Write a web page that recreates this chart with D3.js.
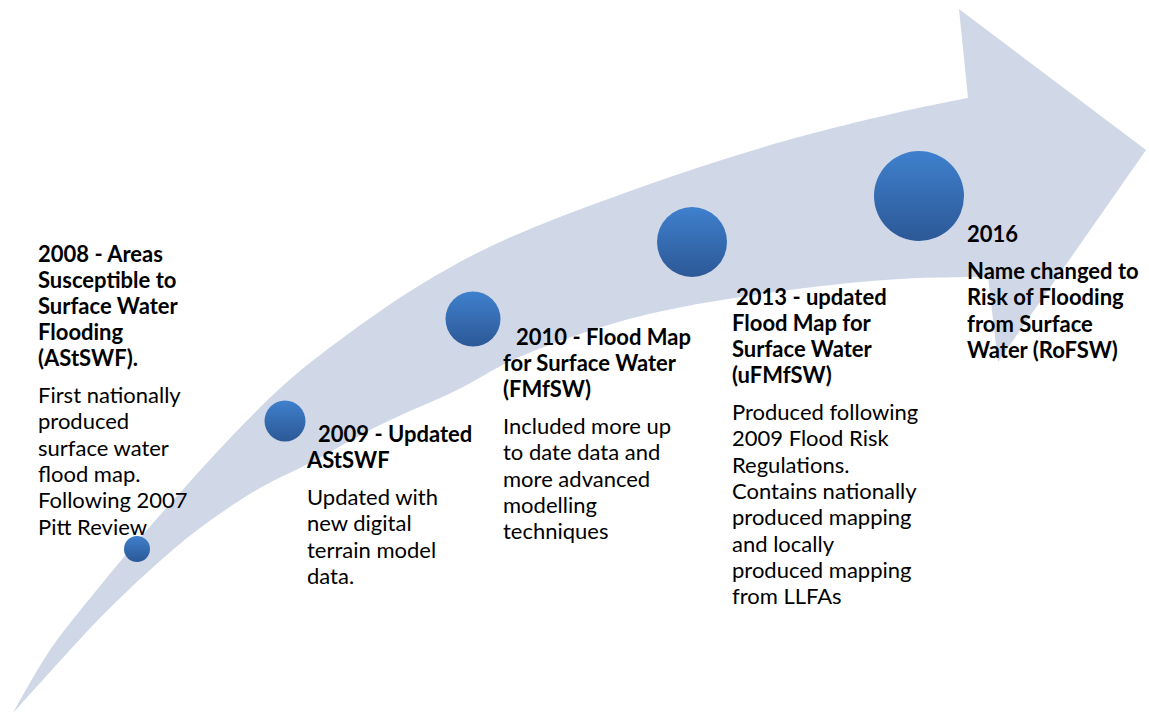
<!DOCTYPE html>
<html>
<head>
<meta charset="utf-8">
<script src="https://cdn.jsdelivr.net/npm/d3@7/dist/d3.min.js"></script>
<style>
    html, body { margin: 0; padding: 0; background: #fff; }
    svg { display: block; }
    text { font-family: Lato, "Open Sans", sans-serif; fill: #000; }
    .head { font-weight: 700; }
</style>
</head>
<body>
<svg id="chart"></svg>
<script>
// milestones
const years = [2008, 2009, 2010, 2013, 2016];
const headings = [
    ["2008 - Areas", "Susceptible to", "Surface Water", "Flooding", "(AStSWF)."],
    [" 2009 - Updated", "AStSWF"],
    [" 2010 - Flood Map", "for Surface Water", "(FMfSW)"],
    [" 2013 - updated", "Flood Map for", "Surface Water", "(uFMfSW)"],
    ["2016"]
];
const bodies = [
    ["First nationally", "produced", "surface water", "flood map.", "Following 2007", "Pitt Review"],
    ["Updated with", "new digital", "terrain model", "data."],
    ["Included more up", "to date data and", "more advanced", "modelling", "techniques"],
    ["Produced following", "2009 Flood Risk", "Regulations.", "Contains nationally", "produced mapping", "and locally", "produced mapping", "from LLFAs"],
    ["Name changed to", "Risk of Flooding", "from Surface", "Water (RoFSW)"]
];
const boldBody = [false, false, false, false, true];

// arrow outline (diagram units)
const arrowTop = [[13, 713], [50, 650], [100, 586], [140, 538], [187, 485], [233, 435], [287, 382],
    [340, 340], [420, 285], [500, 242], [633, 190], [767, 146], [900, 112], [968, 98]];
const arrowHead = [[968, 98], [959, 9], [1146, 150], [998, 362], [988, 277]];
const arrowBottom = [[988, 277], [900, 279], [767, 293], [633, 318], [517, 358], [457, 390], [380, 425],
    [310, 463], [260, 488], [200, 528], [150, 570], [100, 618], [50, 672], [13, 713]];

// node layout
const nodeX = [137, 285, 473, 692, 919];
const nodeY = [549, 421, 319, 242, 196];
const nodeR = [13, 20.5, 27.5, 35, 45];

// text layout
const textX = [38, 307, 503, 732, 967];
const indent = [0, 11, 13, 4, 0];
const headTop = [262, 442, 345, 305, 242];
const headStep = 26;
const bodyGap = 37;
const bodyStep = 26.3;
const fontSize = 22;

const width = 1149, height = 715;

const x = d3.scaleLinear().domain([0, 1149]).range([0, width]);
const y = d3.scaleLinear().domain([0, 715]).range([0, height]);

const svg = d3.select('#chart')
    .attr('width', width)
    .attr('height', height);

const defs = svg.append('defs');
const grad = defs.append('linearGradient')
    .attr('id', 'ball')
    .attr('x1', 0).attr('y1', 0)
    .attr('x2', 0).attr('y2', 1);
grad.append('stop').attr('offset', '0%').attr('stop-color', '#3f80cd');
grad.append('stop').attr('offset', '100%').attr('stop-color', '#2c5896');

// arrow
const curve = d3.line()
    .x(d => x(d[0]))
    .y(d => y(d[1]))
    .curve(d3.curveCatmullRom.alpha(0.5));
const straight = d3.line()
    .x(d => x(d[0]))
    .y(d => y(d[1]));

const arrowPath = curve(arrowTop)
    + straight(arrowHead).replace(/^M/, 'L')
    + curve(arrowBottom).replace(/^M/, 'L') + 'Z';

svg.append('path')
    .attr('d', arrowPath)
    .attr('fill', '#d0d8e8');

// nodes
svg.selectAll('circle.node')
    .data(years)
    .enter()
    .append('circle')
    .attr('class', 'node')
    .attr('cx', (d, i) => x(nodeX[i]))
    .attr('cy', (d, i) => y(nodeY[i]))
    .attr('r', (d, i) => nodeR[i])
    .attr('fill', 'url(#ball)');

// text blocks
const blocks = svg.selectAll('g.block')
    .data(years)
    .enter()
    .append('g')
    .attr('class', 'block');

blocks.each(function (d, i) {
    const g = d3.select(this);
    const head = headings[i];
    head.forEach((line, j) => {
        g.append('text')
            .attr('class', 'head')
            .attr('x', x(textX[i] + (j === 0 ? indent[i] : 0)))
            .attr('y', y(headTop[i] + j * headStep))
            .style('font-size', fontSize + 'px')
            .text(line.trim());
    });
    const bodyStart = headTop[i] + (head.length - 1) * headStep + bodyGap;
    bodies[i].forEach((line, j) => {
        g.append('text')
            .attr('class', boldBody[i] ? 'head' : 'body')
            .attr('x', x(textX[i]))
            .attr('y', y(bodyStart + j * bodyStep))
            .style('font-size', fontSize + 'px')
            .text(line);
    });
});
</script>
</body>
</html>
